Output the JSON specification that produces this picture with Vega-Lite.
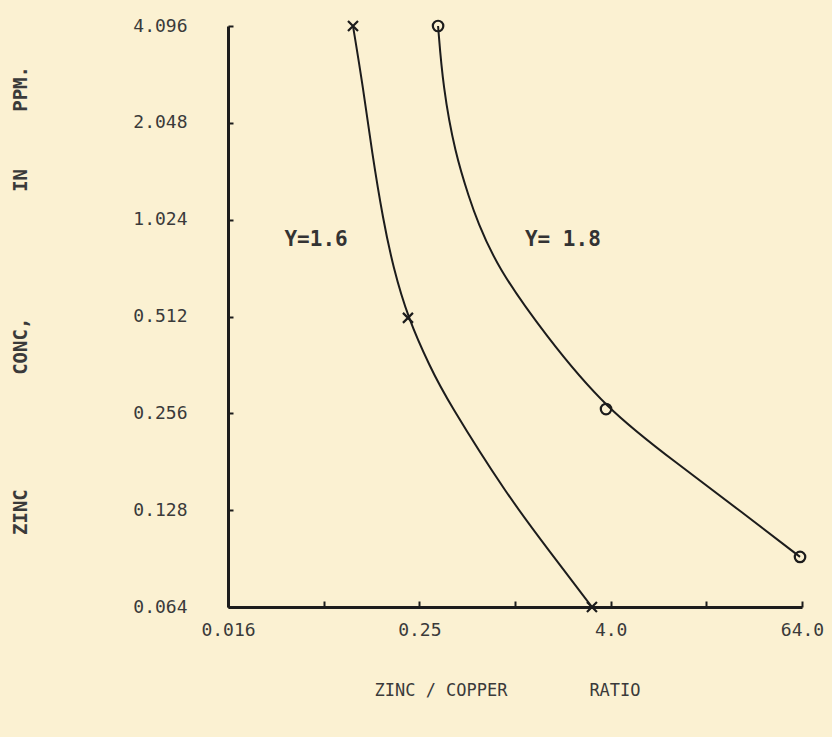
{
  "$schema": "https://vega.github.io/schema/vega-lite/v6.json",
  "width": 574,
  "height": 581,
  "autosize": {"type": "none"},
  "padding": {"left": 228, "top": 26, "right": 30, "bottom": 130},
  "background": "#fbf1d2",
  "config": {"view": {"stroke": null}, "font": "DejaVu Sans Mono"},
  "datasets": {
    "curves": [
      {"gamma": "1.6", "ratio": 0.0956, "conc": 4.096},
      {"gamma": "1.6", "ratio": 0.1105, "conc": 2.65},
      {"gamma": "1.6", "ratio": 0.126, "conc": 1.65},
      {"gamma": "1.6", "ratio": 0.148, "conc": 1.02},
      {"gamma": "1.6", "ratio": 0.171, "conc": 0.73},
      {"gamma": "1.6", "ratio": 0.212, "conc": 0.507},
      {"gamma": "1.6", "ratio": 0.292, "conc": 0.357},
      {"gamma": "1.6", "ratio": 0.373, "conc": 0.282},
      {"gamma": "1.6", "ratio": 0.904, "conc": 0.141},
      {"gamma": "1.6", "ratio": 1.66, "conc": 0.095},
      {"gamma": "1.6", "ratio": 3.05, "conc": 0.064},
      {"gamma": "1.8", "ratio": 0.328, "conc": 4.096},
      {"gamma": "1.8", "ratio": 0.352, "conc": 2.65},
      {"gamma": "1.8", "ratio": 0.419, "conc": 1.65},
      {"gamma": "1.8", "ratio": 0.52, "conc": 1.18},
      {"gamma": "1.8", "ratio": 0.577, "conc": 1.02},
      {"gamma": "1.8", "ratio": 0.771, "conc": 0.73},
      {"gamma": "1.8", "ratio": 1.545, "conc": 0.449},
      {"gamma": "1.8", "ratio": 3.74, "conc": 0.264},
      {"gamma": "1.8", "ratio": 10.46, "conc": 0.179},
      {"gamma": "1.8", "ratio": 27.2, "conc": 0.1254},
      {"gamma": "1.8", "ratio": 62.2, "conc": 0.0916}
    ],
    "markers": [
      {"gamma": "1.6", "ratio": 0.0956, "conc": 4.096},
      {"gamma": "1.6", "ratio": 0.212, "conc": 0.507},
      {"gamma": "1.6", "ratio": 3.05, "conc": 0.064},
      {"gamma": "1.8", "ratio": 0.328, "conc": 4.096},
      {"gamma": "1.8", "ratio": 3.74, "conc": 0.264},
      {"gamma": "1.8", "ratio": 62.2, "conc": 0.0916}
    ],
    "labels": [
      {"label": "Y=1.6", "ratio": 0.056, "conc": 0.885},
      {"label": "Y= 1.8", "ratio": 2.0, "conc": 0.885}
    ]
  },
  "layer": [
    {
      "data": {"name": "curves"},
      "mark": {"type": "line", "color": "#1c1c1c", "strokeWidth": 2, "interpolate": "basis"},
      "encoding": {
        "x": {
          "field": "ratio", "type": "quantitative",
          "scale": {"type": "log", "base": 2, "domain": [0.015625, 64], "nice": false},
          "axis": {
            "values": [0.015625, 0.0625, 0.25, 1, 4, 16, 64],
            "labelExpr": "datum.value < 0.02 ? '0.016' : datum.value == 0.25 ? '0.25' : datum.value == 4 ? '4.0' : datum.value == 64 ? '64.0' : ''",
            "grid": false,
            "domainColor": "#1c1c1c", "domainWidth": 3,
            "tickColor": "#1c1c1c", "tickWidth": 2, "tickSize": -6,
            "labelFontSize": 18, "labelColor": "#3a3a3a", "labelPadding": 20, "labelFlush": false,
            "title": "ZINC / COPPER\u00a0\u00a0\u00a0\u00a0\u00a0\u00a0\u00a0\u00a0RATIO",
            "titleFontSize": 17, "titleFontWeight": "normal", "titleColor": "#3a3a3a",
            "titleBaseline": "middle",
            "titleX": 279, "titleY": 83
          }
        },
        "y": {
          "field": "conc", "type": "quantitative",
          "scale": {"type": "log", "base": 2, "domain": [0.064, 4.096], "nice": false},
          "axis": {
            "values": [0.064, 0.128, 0.256, 0.512, 1.024, 2.048, 4.096],
            "format": ".3f",
            "grid": false,
            "domainColor": "#1c1c1c", "domainWidth": 3,
            "tickColor": "#1c1c1c", "tickWidth": 2, "tickSize": -5,
            "labelFontSize": 18, "labelColor": "#3a3a3a", "labelPadding": 46, "labelFlush": false,
            "title": "ZINC\u00a0\u00a0\u00a0\u00a0\u00a0\u00a0\u00a0\u00a0\u00a0\u00a0CONC,\u00a0\u00a0\u00a0\u00a0\u00a0\u00a0\u00a0\u00a0\u00a0\u00a0\u00a0IN\u00a0\u00a0\u00a0\u00a0\u00a0PPM.",
            "titleFontSize": 19, "titleFontWeight": "bold", "titleColor": "#3a3a3a",
            "titleAngle": 270, "titleAlign": "center", "titleBaseline": "middle",
            "titleX": -208, "titleY": 274
          }
        },
        "detail": {"field": "gamma"}
      }
    },
    {
      "data": {"name": "markers"},
      "transform": [{"filter": "datum.gamma == '1.8'"}],
      "mark": {"type": "point", "shape": "circle", "filled": false, "size": 110, "strokeWidth": 2.2, "color": "#1c1c1c", "opacity": 1},
      "encoding": {
        "x": {"field": "ratio", "type": "quantitative"},
        "y": {"field": "conc", "type": "quantitative"}
      }
    },
    {
      "data": {"name": "markers"},
      "transform": [{"filter": "datum.gamma == '1.6'"}],
      "mark": {"type": "point", "shape": "M-1,-1L1,1M-1,1L1,-1", "filled": false, "size": 100, "strokeWidth": 2.2, "color": "#1c1c1c", "opacity": 1},
      "encoding": {
        "x": {"field": "ratio", "type": "quantitative"},
        "y": {"field": "conc", "type": "quantitative"}
      }
    },
    {
      "data": {"name": "labels"},
      "mark": {"type": "text", "fontSize": 21, "fontWeight": "bold", "color": "#333333", "align": "center", "baseline": "middle"},
      "encoding": {
        "x": {"field": "ratio", "type": "quantitative"},
        "y": {"field": "conc", "type": "quantitative"},
        "text": {"field": "label"}
      }
    }
  ]
}
